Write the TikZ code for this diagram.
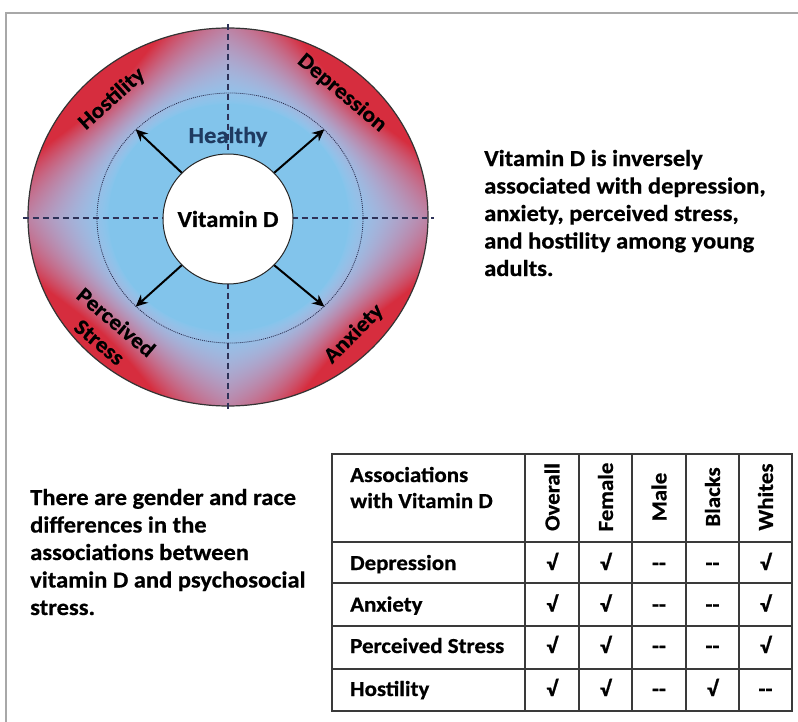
\documentclass[tikz,border=0pt]{standalone}
\usepackage{fontspec}
\setmainfont{Carlito}[FakeStretch=1.07, BoldFeatures={FakeBold=0.6}]
\usetikzlibrary{shapes.geometric,arrows.meta}
\pgfdeclarefunctionalshading{ringshade}{\pgfpoint{0bp}{0bp}}{\pgfpoint{100bp}{100bp}}{}{50 sub 25 div exch 50 sub 25 div 2 copy abs exch abs add 3 1 roll dup mul exch dup mul add sqrt 0.001 add dup 3 1 roll div 1 sub 0.414 div -0.42 mul 0.70 add exch 0.60 sub exch div dup 0 lt {pop 0} if dup 1 gt {pop 1} if dup 0.65 exp 84 mul 130 add 255 div exch dup 1.5 exp -151 mul 196 add 255 div exch 1.6 exp -173 mul 235 add 255 div}
\definecolor{axisc}{HTML}{2E3258}
\definecolor{healthyc}{HTML}{1F3A60}
\definecolor{framec}{HTML}{A8A8A8}
\definecolor{tblc}{HTML}{3A3A3A}
\tikzset{
  txt/.style={font=\fontsize{23}{27}\selectfont\bfseries, inner sep=0pt},
  ringlbl/.style={font=\fontsize{22}{26}\selectfont\bfseries, inner sep=0pt},
  tbltxt/.style={font=\fontsize{21.5}{26}\selectfont\bfseries, inner sep=0pt},
  axisline/.style={draw=axisc, line width=1.5pt, dash pattern=on 6pt off 4pt},
  arr/.style={draw=black, line width=2pt, -{Stealth[length=12pt,width=11pt]}},
  tblline/.style={draw=tblc, line width=1.6pt},
}
\begin{document}
\begin{tikzpicture}[x=1bp,y=-1bp]
\useasboundingbox (0,0) rectangle (798,722);
\fill[white] (0,0) rectangle (798,722);
\draw[framec, line width=1.5pt] (6,722) -- (6,13) -- (798,13);

% ring
\node[ellipse, shade, shading=ringshade, draw=black!80, line width=1.2pt,
      minimum width=400bp, minimum height=378bp, inner sep=0pt] (outer) at (228,217) {};
\node[ellipse, draw=axisc!90!black, line width=0.8pt, dash pattern=on 1pt off 1pt,
      minimum width=266bp, minimum height=250bp, inner sep=0pt] (ring) at (230,218) {};
\coordinate (vt) at (228,24);
\coordinate (vb) at (228,410);
\coordinate (hl) at (23,218);
\coordinate (hr) at (434,218);
\draw[axisline] (vt) -- (vb);
\draw[axisline] (hl) -- (hr);
\node[circle, fill=white, draw=black!85, line width=1pt, minimum size=130bp,
      txt] (vd) at (228,219) {Vitamin D};
\node[txt, text=healthyc, anchor=base] (healthy) at (228,143) {Healthy};
\draw[arr] (vd.north east) -- (ring.north east);
\draw[arr] (vd.north west) -- (ring.north west);
\draw[arr] (vd.south east) -- (ring.south east);
\draw[arr] (vd.south west) -- (ring.south west);

\node[ringlbl, rotate=42] (hos) at (112,99) {Hostility};
\node[ringlbl, rotate=-40] (dep) at (342,93) {Depression};
\node[ringlbl, rotate=45] (anx) at (354,334) {Anxiety};
\node[ringlbl, rotate=-40, align=center] (ps) at (108,332) {Perceived\\Stress};

% right text
\node[txt, anchor=base west] (r1) at (484,166) {Vitamin D is inversely};
\node[txt, anchor=base west] (r2) at (484,193.5) {associated with depression,};
\node[txt, anchor=base west] (r3) at (484,221) {anxiety, perceived stress,};
\node[txt, anchor=base west] (r4) at (484,248.5) {and hostility among young};
\node[txt, anchor=base west] (r5) at (484,276) {adults.};

% bottom-left text
\node[txt, anchor=base west] (b1) at (30,505) {There are gender and race};
\node[txt, anchor=base west] (b2) at (30,532.5) {differences in the};
\node[txt, anchor=base west] (b3) at (30,560) {associations between};
\node[txt, anchor=base west] (b4) at (30,587.5) {vitamin D and psychosocial};
\node[txt, anchor=base west] (b5) at (30,615) {stress.};

% table
\draw[tblline] (332,454) rectangle (792,711);
\foreach \x in {525,579,632,686,739} \draw[tblline] (\x,454) -- (\x,711);
\foreach \y in {542,583,626,669} \draw[tblline] (332,\y) -- (792,\y);

\node[tbltxt, anchor=base west] (h1) at (350,482) {Associations};
\node[tbltxt, anchor=base west] (h2) at (350,508) {with Vitamin D};
\node[tbltxt, rotate=90] (cO) at (552,497) {Overall};
\node[tbltxt, rotate=90] (cF) at (605.5,497) {Female};
\node[tbltxt, rotate=90] (cM) at (659,497) {Male};
\node[tbltxt, rotate=90] (cB) at (712.5,497) {Blacks};
\node[tbltxt, rotate=90] (cW) at (765.5,497) {Whites};

\node[tbltxt, anchor=base west] (l1) at (350,570) {Depression};
\node[tbltxt, anchor=base west] (l2) at (350,611.5) {Anxiety};
\node[tbltxt, anchor=base west] (l3) at (350,653) {Perceived Stress};
\node[tbltxt, anchor=base west] (l4) at (350,696) {Hostility};

\foreach \yy/\a/\b/\c/\d/\e [count=\i] in {570/√/√/{-}{-}/{-}{-}/√, 611.5/√/√/{-}{-}/{-}{-}/√, 653/√/√/{-}{-}/{-}{-}/√, 696/√/√/{-}{-}/√/{-}{-}} {
  \node[tbltxt, anchor=base] (v\i a) at (552,\yy) {\a};
  \node[tbltxt, anchor=base] (v\i b) at (605.5,\yy) {\b};
  \node[tbltxt, anchor=base] (v\i c) at (659,\yy) {\c};
  \node[tbltxt, anchor=base] (v\i d) at (712.5,\yy) {\d};
  \node[tbltxt, anchor=base] (v\i e) at (765.5,\yy) {\e};
}
\end{tikzpicture}
\end{document}
